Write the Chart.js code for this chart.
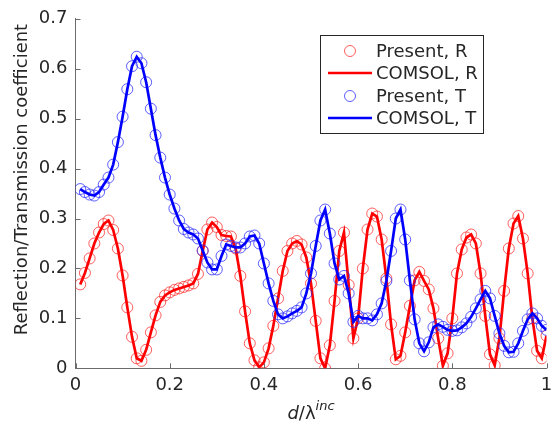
<!DOCTYPE html>
<html>
<head>
<meta charset="utf-8">
<script src="https://cdn.jsdelivr.net/npm/chart.js@4.4.1/dist/chart.umd.min.js"></script>
<style>
    html, body { margin: 0; padding: 0; background: #fff; }
    #wrap { width: 554px; height: 434px; }
</style>
</head>
<body>
<div id="wrap"><canvas id="rtChart"></canvas></div>
<script>
/* ========================================
   Reflection / Transmission vs d/lambda
   ======================================== */

// d / lambda^inc sample points
const xVals = [
    0.01, 0.02, 0.03, 0.04, 0.05, 0.06, 0.07, 0.08, 0.09, 0.10,
    0.11, 0.12, 0.13, 0.14, 0.15, 0.16, 0.17, 0.18, 0.19, 0.20,
    0.21, 0.22, 0.23, 0.24, 0.25, 0.26, 0.27, 0.28, 0.29, 0.30,
    0.31, 0.32, 0.33, 0.34, 0.35, 0.36, 0.37, 0.38, 0.39, 0.40,
    0.41, 0.42, 0.43, 0.44, 0.45, 0.46, 0.47, 0.48, 0.49, 0.50,
    0.51, 0.52, 0.53, 0.54, 0.55, 0.56, 0.57, 0.58, 0.59, 0.60,
    0.61, 0.62, 0.63, 0.64, 0.65, 0.66, 0.67, 0.68, 0.69, 0.70,
    0.71, 0.72, 0.73, 0.74, 0.75, 0.76, 0.77, 0.78, 0.79, 0.80,
    0.81, 0.82, 0.83, 0.84, 0.85, 0.86, 0.87, 0.88, 0.89, 0.90,
    0.91, 0.92, 0.93, 0.94, 0.95, 0.96, 0.97, 0.98, 0.99, 1.00
];

// reflection coefficient R
const rVals = [
    0.168, 0.191, 0.220, 0.250, 0.272, 0.289, 0.296, 0.277, 0.240, 0.186,
    0.122, 0.063, 0.020, 0.015, 0.037, 0.072, 0.106, 0.133, 0.146, 0.152,
    0.157, 0.160, 0.163, 0.166, 0.170, 0.189, 0.235, 0.278, 0.292, 0.283,
    0.267, 0.265, 0.264, 0.240, 0.185, 0.114, 0.050, 0.016, 0.002, 0.012,
    0.040, 0.085, 0.140, 0.195, 0.235, 0.250, 0.255, 0.248, 0.222, 0.170,
    0.095, 0.020, 0.000, 0.046, 0.135, 0.235, 0.272, 0.167, 0.060, 0.100,
    0.200, 0.278, 0.310, 0.304, 0.258, 0.180, 0.088, 0.018, 0.025, 0.072,
    0.125, 0.176, 0.193, 0.175, 0.158, 0.120, 0.060, 0.005, 0.030, 0.100,
    0.190, 0.238, 0.262, 0.268, 0.250, 0.190, 0.105, 0.028, 0.006, 0.060,
    0.155, 0.240, 0.290, 0.305, 0.260, 0.190, 0.100, 0.035, 0.020, 0.065
];

// transmission coefficient T
const tVals = [
    0.359, 0.353, 0.348, 0.346, 0.353, 0.368, 0.382, 0.408, 0.453, 0.504,
    0.559, 0.605, 0.624, 0.611, 0.573, 0.520, 0.467, 0.422, 0.382, 0.348,
    0.320, 0.296, 0.279, 0.272, 0.268, 0.260, 0.236, 0.212, 0.198, 0.198,
    0.225, 0.248, 0.245, 0.242, 0.242, 0.250, 0.264, 0.266, 0.250, 0.210,
    0.170, 0.135, 0.108, 0.100, 0.104, 0.110, 0.115, 0.122, 0.150, 0.190,
    0.245, 0.296, 0.318, 0.270, 0.210, 0.178, 0.185, 0.150, 0.093, 0.105,
    0.100, 0.100, 0.096, 0.108, 0.130, 0.175, 0.235, 0.300, 0.318, 0.258,
    0.176, 0.098, 0.050, 0.034, 0.052, 0.082, 0.088, 0.083, 0.077, 0.075,
    0.076, 0.082, 0.090, 0.103, 0.120, 0.138, 0.155, 0.140, 0.105, 0.070,
    0.045, 0.032, 0.033, 0.050, 0.075, 0.098, 0.110, 0.100, 0.085, 0.077
];

const legendLabels = ['Present, R', 'COMSOL, R', 'Present, T', 'COMSOL, T'];

const FONT = '"DejaVu Sans", sans-serif';
const TEXT_COLOR = '#262626';
const AXIS_COLOR = '#6b6b6b';
const RED = '#ff0000';
const BLUE = '#0000ff';
const RED_MARK = 'rgba(255, 40, 40, 0.75)';
const BLUE_MARK = 'rgba(40, 40, 255, 0.75)';

function toPoints(ys) {
    return xVals.map((x, i) => ({ x: x, y: ys[i] }));
}

function tickText(v) {
    return String(Number(v.toFixed(1)));
}

// inward ticks, axis titles and the boxed legend (MATLAB look)
const decorPlugin = {
    id: 'decor',
    afterDraw(chart) {
        const ctx = chart.ctx;
        const area = chart.chartArea;
        const xs = chart.scales.x;
        const ys = chart.scales.y;

        ctx.save();
        ctx.strokeStyle = AXIS_COLOR;
        ctx.lineWidth = 1;
        ctx.beginPath();
        xs.ticks.forEach(t => {
            const px = Math.round(xs.getPixelForValue(t.value)) + 0.5;
            ctx.moveTo(px, area.bottom);
            ctx.lineTo(px, area.bottom - 5);
        });
        ys.ticks.forEach(t => {
            const py = Math.round(ys.getPixelForValue(t.value)) + 0.5;
            ctx.moveTo(area.left, py);
            ctx.lineTo(area.left + 5, py);
        });
        ctx.stroke();

        // y title
        ctx.fillStyle = TEXT_COLOR;
        ctx.font = '18px ' + FONT;
        ctx.textAlign = 'center';
        ctx.textBaseline = 'middle';
        ctx.save();
        ctx.translate(22, (area.top + area.bottom) / 2 - 14);
        ctx.rotate(-Math.PI / 2);
        ctx.fillText('Reflection/Transmission coefficient', 0, 0);
        ctx.restore();

        // x title: d/λ^inc
        ctx.textBaseline = 'alphabetic';
        ctx.textAlign = 'left';
        const cx = (area.left + area.right) / 2;
        const base = 419;
        ctx.font = 'italic 18px ' + FONT;
        const wD = ctx.measureText('d').width;
        ctx.font = '18px ' + FONT;
        const wSl = ctx.measureText('/λ').width;
        ctx.font = 'italic 13px ' + FONT;
        const wSup = ctx.measureText('inc').width;
        let x0 = cx - (wD + wSl + wSup) / 2;
        ctx.font = 'italic 18px ' + FONT;
        ctx.fillText('d', x0, base);
        x0 += wD;
        ctx.font = '18px ' + FONT;
        ctx.fillText('/λ', x0, base);
        x0 += wSl;
        ctx.font = 'italic 13px ' + FONT;
        ctx.fillText('inc', x0, base - 9);

        // legend box
        const lx = 320, ly = 35, lw = 163, lh = 98;
        ctx.fillStyle = '#fff';
        ctx.fillRect(lx, ly, lw, lh);
        ctx.strokeStyle = '#262626';
        ctx.lineWidth = 1;
        ctx.strokeRect(lx + 0.5, ly + 0.5, lw, lh);

        const rows = [51, 73, 96, 118];
        const kinds = ['mark', 'line', 'mark', 'line'];
        const cols = [RED_MARK, RED, BLUE_MARK, BLUE];
        ctx.font = '18px ' + FONT;
        ctx.textBaseline = 'middle';
        rows.forEach((ry, i) => {
            if (kinds[i] === 'mark') {
                ctx.strokeStyle = cols[i];
                ctx.lineWidth = 1;
                ctx.beginPath();
                ctx.arc(350, ry, 5.5, 0, Math.PI * 2);
                ctx.stroke();
            } else {
                ctx.strokeStyle = cols[i];
                ctx.lineWidth = 2.7;
                ctx.beginPath();
                ctx.moveTo(328, ry);
                ctx.lineTo(372, ry);
                ctx.stroke();
            }
            ctx.fillStyle = TEXT_COLOR;
            ctx.fillText(legendLabels[i], 376, ry + 1);
        });
        ctx.restore();
    }
};

const chart = new Chart(document.getElementById('rtChart'), {
    type: 'line',
    data: {
        datasets: [
            {
                label: legendLabels[3],
                data: toPoints(tVals),
                borderColor: BLUE,
                borderWidth: 2.7,
                pointRadius: 0,
                order: 0
            },
            {
                label: legendLabels[2],
                data: toPoints(tVals),
                showLine: false,
                borderColor: BLUE_MARK,
                backgroundColor: 'rgba(0,0,0,0)',
                pointStyle: 'circle',
                pointRadius: 5.5,
                pointBorderWidth: 1,
                order: 1
            },
            {
                label: legendLabels[1],
                data: toPoints(rVals),
                borderColor: RED,
                borderWidth: 2.7,
                pointRadius: 0,
                order: 2
            },
            {
                label: legendLabels[0],
                data: toPoints(rVals),
                showLine: false,
                borderColor: RED_MARK,
                backgroundColor: 'rgba(0,0,0,0)',
                pointStyle: 'circle',
                pointRadius: 5.5,
                pointBorderWidth: 1,
                order: 3
            }
        ]
    },
    options: {
        responsive: true,
        maintainAspectRatio: false,
        animation: false,
        events: [],
        layout: {
            padding: { left: 0, right: 7.5, top: 11.5, bottom: 0 }
        },
        plugins: {
            legend: { display: false },
            tooltip: { enabled: false }
        },
        scales: {
            x: {
                type: 'linear',
                min: 0,
                max: 1,
                grid: { display: false, drawTicks: false },
                border: { display: true, color: AXIS_COLOR, width: 1 },
                ticks: {
                    stepSize: 0.2,
                    padding: 6,
                    color: TEXT_COLOR,
                    font: { family: FONT, size: 18 },
                    maxRotation: 0,
                    callback: v => tickText(v)
                },
                afterFit: s => {
                    s.height = 434 - 368.3;
                    s.paddingLeft = 0;
                    s.paddingRight = 0;
                }
            },
            y: {
                type: 'linear',
                min: 0,
                max: 0.7,
                grid: { display: false, drawTicks: false },
                border: { display: true, color: AXIS_COLOR, width: 1 },
                ticks: {
                    stepSize: 0.1,
                    padding: 8,
                    color: TEXT_COLOR,
                    font: { family: FONT, size: 18 },
                    callback: v => tickText(v)
                },
                afterFit: s => { s.width = 75.5; }
            }
        }
    },
    plugins: [decorPlugin]
});
</script>
</body>
</html>
